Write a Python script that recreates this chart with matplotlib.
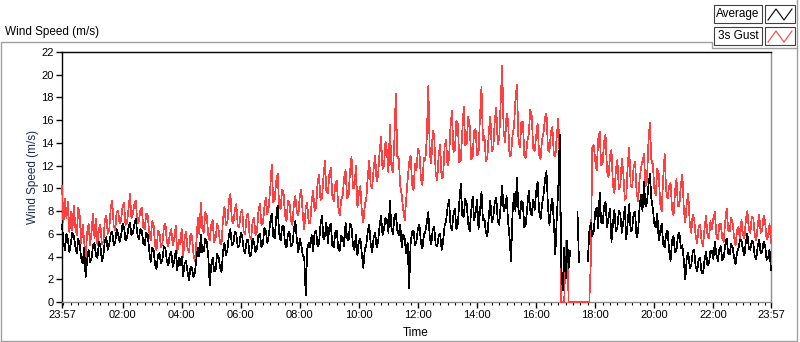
import matplotlib.pyplot as plt
import numpy as np
from matplotlib.lines import Line2D
from matplotlib.patches import Rectangle

nan = np.nan

# 3-minute samples from 23:57 to 23:57 next day (481 points), m/s
# one row per hour
gust_speed = [
    10.2, 7.0, 9.1, 7.4, 8.8, 6.1, 7.9, 6.3, 8.5, 6.6, 5.9, 8.3, 7.6, 5.2, 6.8, 5.4, 3.8, 6.1, 6.9, 5.0,
    6.2, 7.8, 5.6, 7.3, 5.0, 6.4, 6.8, 5.1, 5.3, 7.2, 7.6, 6.0, 6.4, 8.3, 8.9, 6.7, 6.3, 7.9, 8.0, 6.9,
    7.2, 8.4, 8.7, 6.8, 7.0, 8.1, 9.5, 7.4, 7.8, 8.6, 8.9, 6.9, 7.1, 8.0, 8.3, 6.6, 6.4, 7.8, 7.6, 6.2,
    5.4, 7.1, 6.8, 5.0, 4.6, 6.3, 6.1, 4.8, 5.2, 6.6, 6.9, 5.3, 4.9, 6.0, 6.4, 5.0, 5.6, 6.7, 4.3, 5.5,
    5.1, 6.4, 3.9, 5.6, 6.2, 4.7, 4.4, 6.0, 5.8, 4.2, 3.6, 5.3, 7.4, 6.0, 8.7, 6.5, 6.1, 7.9, 7.6, 5.9,
    5.4, 6.8, 7.2, 5.3, 5.6, 6.9, 6.4, 5.2, 5.1, 7.3, 8.4, 6.8, 7.0, 8.9, 9.5, 7.2, 6.9, 8.1, 8.6, 6.7,
    6.6, 7.9, 8.1, 6.2, 6.0, 7.6, 7.8, 5.8, 5.5, 7.0, 7.4, 5.9, 6.2, 8.0, 8.6, 6.8, 6.9, 8.3, 9.2, 7.7,
    8.4, 10.1, 12.1, 8.8, 9.0, 10.6, 11.3, 8.5, 8.2, 9.9, 9.6, 7.6, 7.1, 8.9, 8.8, 7.2, 6.8, 8.6, 9.3, 7.9,
    7.6, 9.4, 9.9, 7.7, 6.4, 8.3, 8.7, 7.0, 6.9, 8.8, 9.8, 8.0, 8.3, 10.4, 11.2, 9.0, 9.1, 11.0, 12.4, 9.7,
    9.6, 11.2, 11.8, 9.4, 8.9, 10.3, 10.7, 8.4, 7.6, 9.0, 9.4, 10.9, 11.6, 9.1, 9.3, 11.5, 12.8, 10.0, 10.1, 12.0,
    8.3, 9.6, 10.2, 7.9, 7.0, 8.5, 9.1, 11.0, 12.4, 10.3, 10.0, 11.8, 12.9, 10.6, 11.1, 13.2, 14.5, 11.7, 12.0, 14.1,
    13.2, 11.4, 15.6, 12.0, 11.4, 14.2, 18.3, 12.8, 12.6, 10.2, 9.4, 8.1, 7.2, 9.0, 10.8, 12.3, 12.9, 10.4, 9.8, 12.2,
    11.6, 13.5, 13.1, 10.8, 10.3, 12.7, 12.5, 14.6, 19.0, 13.0, 12.2, 15.1, 14.6, 11.3, 10.7, 12.9, 13.8, 10.9, 11.0, 13.6,
    14.3, 12.0, 12.6, 15.4, 16.8, 13.2, 13.4, 15.9, 15.7, 12.3, 12.5, 15.0, 17.2, 13.8, 14.0, 16.3, 15.5, 12.6, 12.8, 15.1,
    15.2, 12.9, 13.1, 16.4, 18.9, 14.2, 14.6, 12.4, 12.7, 15.1, 16.3, 13.3, 13.5, 16.0, 17.1, 13.9, 14.4, 17.6, 20.8, 15.0,
    14.1, 16.6, 16.0, 12.8, 12.9, 14.7, 15.4, 17.8, 19.1, 14.3, 13.6, 15.8, 15.9, 12.9, 12.7, 14.1, 14.8, 16.9, 16.4, 13.5,
    13.3, 14.6, 15.7, 13.0, 12.6, 14.3, 14.9, 16.2, 16.6, 13.4, 13.2, 15.0, 15.4, 12.9, 12.8, 14.7, 16.1, 12.4, 0.0, 0.0,
    0.0, 5.4, 5.3, 0.0, 0.0, 0.0, 0.0, 0.0, 0.0, 0.0, 0.0, 0.0, 0.0, 0.0, 0.0, 0.0, 0.0, 0.0, 3.5, 13.6,
    13.8, 12.4, 11.6, 14.3, 15.0, 12.0, 12.2, 14.1, 14.7, 11.5, 11.0, 12.8, 13.4, 10.2, 9.6, 11.7, 12.5, 9.9, 10.3, 12.6,
    11.4, 9.0, 9.2, 12.1, 13.6, 10.3, 10.1, 11.9, 12.3, 9.7, 8.9, 10.8, 11.8, 12.4, 13.0, 10.2, 10.6, 14.0, 15.8, 12.5,
    12.1, 10.0, 9.4, 11.7, 11.3, 8.6, 8.0, 10.9, 13.0, 9.8, 9.1, 10.2, 10.5, 8.2, 7.6, 9.7, 10.8, 8.4, 8.5, 10.4,
    11.2, 8.1, 7.0, 8.8, 9.5, 6.9, 6.1, 7.7, 7.3, 5.8, 5.2, 6.6, 6.8, 5.4, 4.9, 6.5, 7.6, 5.9, 5.6, 7.1,
    6.4, 7.4, 7.9, 5.9, 5.5, 6.8, 6.9, 5.6, 5.3, 7.1, 8.2, 6.3, 6.2, 7.4, 7.0, 5.7, 5.0, 6.3, 6.6, 5.4,
    7.2, 6.0, 5.6, 7.3, 8.0, 6.4, 6.1, 7.5, 7.4, 5.9, 5.4, 6.7, 7.7, 6.1, 6.3, 7.6, 7.1, 5.5, 5.8, 6.9,
    5.2,
]

avg_speed = [
    6.8, 5.2, 4.6, 6.0, 5.5, 4.4, 5.2, 6.1, 5.8, 4.9, 4.3, 5.6, 5.0, 3.9, 3.4, 4.8, 2.2, 3.7, 4.6, 3.5,
    3.8, 5.0, 5.2, 4.1, 3.9, 5.3, 4.9, 3.6, 4.1, 5.4, 5.7, 4.6, 5.1, 6.0, 6.2, 5.0, 5.2, 6.4, 6.0, 5.3,
    5.8, 6.9, 6.6, 5.4, 5.6, 6.5, 7.0, 5.9, 6.1, 6.8, 7.3, 6.0, 5.5, 6.4, 6.3, 5.2, 5.0, 6.1, 5.9, 4.6,
    3.5, 4.8, 4.6, 3.3, 2.9, 4.1, 4.3, 3.4, 3.8, 4.9, 4.7, 3.6, 3.2, 4.2, 4.4, 3.1, 3.6, 4.5, 2.8, 3.9,
    3.2, 4.0, 2.3, 3.4, 3.6, 2.6, 1.9, 3.1, 3.0, 2.2, 2.6, 3.8, 4.8, 4.0, 5.9, 4.4, 4.5, 5.6, 5.3, 4.1,
    1.5, 3.2, 3.9, 2.7, 2.8, 4.2, 4.0, 3.0, 2.6, 4.4, 5.2, 4.1, 4.6, 5.9, 6.4, 5.0, 5.1, 6.2, 6.0, 4.8,
    4.9, 6.1, 5.8, 4.6, 4.3, 5.4, 5.5, 4.0, 4.1, 5.6, 5.2, 4.4, 4.7, 5.9, 6.0, 4.8, 5.1, 6.5, 6.3, 5.2,
    5.9, 7.0, 7.8, 5.8, 5.6, 7.4, 8.5, 6.0, 5.4, 6.6, 6.7, 5.1, 4.8, 6.0, 6.2, 4.9, 5.0, 6.4, 7.1, 5.5,
    4.4, 5.6, 5.0, 4.1, 3.9, 0.6, 4.6, 5.2, 4.8, 5.9, 4.5, 6.1, 6.3, 4.9, 5.1, 6.8, 7.6, 5.5, 5.8, 7.0,
    5.2, 6.6, 6.9, 5.0, 4.8, 6.1, 6.3, 4.7, 4.5, 5.8, 5.7, 4.9, 7.0, 5.6, 5.4, 6.9, 6.6, 5.0, 4.6, 5.9,
    4.1, 5.3, 5.6, 4.2, 3.0, 4.6, 5.0, 6.2, 6.8, 5.1, 4.4, 5.7, 6.1, 4.8, 5.3, 6.7, 7.6, 5.9, 6.4, 7.4,
    7.2, 6.1, 8.9, 6.6, 6.0, 7.4, 7.8, 6.3, 5.9, 6.8, 4.8, 5.9, 5.6, 4.3, 5.2, 1.2, 5.1, 6.2, 6.3, 5.0,
    5.4, 6.5, 6.8, 5.2, 4.7, 5.9, 6.2, 7.0, 7.9, 5.6, 5.1, 6.4, 6.6, 5.0, 4.9, 5.8, 6.0, 4.6, 5.3, 6.7,
    7.1, 8.3, 9.0, 6.8, 6.3, 7.7, 8.2, 6.4, 6.9, 8.8, 10.4, 7.6, 7.5, 9.1, 8.6, 6.9, 6.2, 8.0, 9.3, 7.2,
    7.8, 9.0, 6.4, 8.1, 9.7, 7.2, 7.3, 6.1, 5.8, 7.6, 8.9, 7.0, 7.5, 8.8, 9.2, 7.1, 6.8, 8.5, 10.2, 8.0,
    8.4, 9.3, 7.1, 5.6, 3.6, 7.8, 9.5, 8.0, 10.9, 8.2, 7.4, 8.9, 8.7, 6.6, 6.9, 8.4, 9.8, 8.1, 7.6, 9.0,
    8.1, 9.7, 10.6, 8.0, 7.3, 8.6, 9.4, 10.8, 11.5, 8.4, 6.8, 8.3, 9.1, 7.0, 4.2, 7.5, 10.1, 14.7, 3.2, 1.0,
    4.8, 2.1, 5.4, 3.0, 4.5, nan, nan, nan, nan, 7.9, 3.5, nan, nan, nan, nan, nan, 3.6, 6.2, 7.0, 5.8,
    6.2, 7.9, 8.3, 6.5, 9.6, 7.0, 6.9, 8.4, 8.8, 6.6, 7.4, 8.2, 5.3, 6.9, 8.1, 6.2, 6.6, 8.0, 7.7, 6.1,
    7.0, 8.4, 5.5, 7.1, 8.6, 6.2, 6.4, 7.8, 7.9, 5.7, 6.1, 8.3, 9.4, 8.0, 10.6, 8.4, 8.7, 10.2, 11.3, 9.1,
    8.2, 6.9, 6.6, 7.8, 5.4, 6.2, 6.9, 5.1, 4.8, 6.0, 6.3, 4.5, 3.6, 5.4, 5.8, 4.4, 4.5, 5.9, 6.1, 4.7,
    5.0, 3.6, 2.0, 3.9, 4.3, 3.0, 3.2, 4.4, 4.6, 3.1, 2.7, 3.8, 3.9, 2.6, 2.5, 3.7, 4.4, 3.2, 3.4, 4.5,
    4.5, 3.8, 5.3, 4.2, 3.6, 4.6, 4.9, 3.7, 3.9, 5.0, 5.6, 4.3, 4.2, 5.1, 4.8, 3.9, 3.3, 4.4, 4.7, 5.5,
    5.4, 4.6, 4.1, 5.3, 6.0, 4.7, 4.6, 5.4, 5.2, 4.0, 3.8, 4.9, 5.5, 4.3, 4.4, 5.3, 5.0, 3.7, 3.9, 4.6,
    2.8,
]

# hours since 23:57
hours = np.arange(len(avg_speed)) * 0.05
tick_hours = [0] + [2.05 + 2 * k for k in range(11)] + [24]
tick_labels = ["23:57", "02:00", "04:00", "06:00", "08:00", "10:00", "12:00",
               "14:00", "16:00", "18:00", "20:00", "22:00", "23:57"]

W, H = 800, 342
FONT = "Liberation Sans"
plt.rcParams["font.family"] = [FONT, "DejaVu Sans"]


def px(x, y):
    return x / W, 1 - y / H


fig = plt.figure(figsize=(W / 100, H / 100), dpi=100)
ax = fig.add_axes([62 / W, 1 - 302 / H, (771 - 62) / W, (302 - 52) / H])

# LabVIEW draws 1-px aliased traces
ax.plot(hours, gust_speed, color="#ff4040", lw=0.5, zorder=3, clip_on=False,
        antialiased=False)
ax.plot(hours, avg_speed, color="black", lw=0.5, zorder=4, clip_on=False,
        antialiased=False)

ax.set_xlim(0, 24)
ax.set_ylim(0, 22)
ax.set_yticks(range(0, 23, 2))
ax.set_xticks(tick_hours)
ax.set_xticklabels(tick_labels)
ax.set_xticks(np.arange(0.05, 24, 0.25), minor=True)
ax.tick_params(axis="both", which="major", direction="out", length=4, width=1,
               labelsize=8, pad=2, color="black")
ax.tick_params(axis="x", which="minor", direction="out", length=2.5, width=0.8)
ax.tick_params(axis="y", which="minor", length=0)

for side in ("left", "top"):
    ax.spines[side].set_color("black")
for side in ("bottom", "right"):
    ax.spines[side].set_color("#8c8c8c")
for sp in ax.spines.values():
    sp.set_linewidth(1)

fig.text(*px(5, 32), "Wind Speed (m/s)", fontsize=8.5, ha="left", va="center")
fig.text(*px(33, 177), "Wind Speed (m/s)", fontsize=8.5, rotation=90,
         ha="center", va="center", color="#1c2b52")
fig.text(*px(416, 333), "Time", fontsize=8.5, ha="center", va="center")

# outer frame
gray = "#a0a0a0"
frame_x, frame_y = zip(*[px(0.5, 341), px(0.5, 42), px(712, 42), px(712, 48),
                         px(797, 48)])
fig.add_artist(Line2D(frame_x, frame_y, color=gray, lw=1))
fx, fy = zip(*[px(0.5, 341), px(797, 341), px(797, 0)])
fig.add_artist(Line2D(fx, fy, color=gray, lw=1))

# legend
legend_rows = [("Average", "black", 5), ("3s Gust", "#ff4040", 27)]
for name, col, top in legend_rows:
    x0, y0 = px(714, top + 18)
    fig.add_artist(Rectangle((x0, y0), 48 / W, 18 / H, facecolor="white",
                             edgecolor="#404040", lw=0.8))
    fig.text(*px(738, top + 9), name, fontsize=8.5, ha="center", va="center")
    x1, y1 = px(765, top + 18)
    fig.add_artist(Rectangle((x1, y1), 30 / W, 18 / H, facecolor="white",
                             edgecolor="#404040", lw=0.8))
    zx, zy = zip(*[px(768, top + 15), px(776, top + 4), px(784, top + 15),
                   px(792, top + 4)])
    fig.add_artist(Line2D(zx, zy, color=col, lw=0.8))

fig.savefig("out.png", dpi=100)
